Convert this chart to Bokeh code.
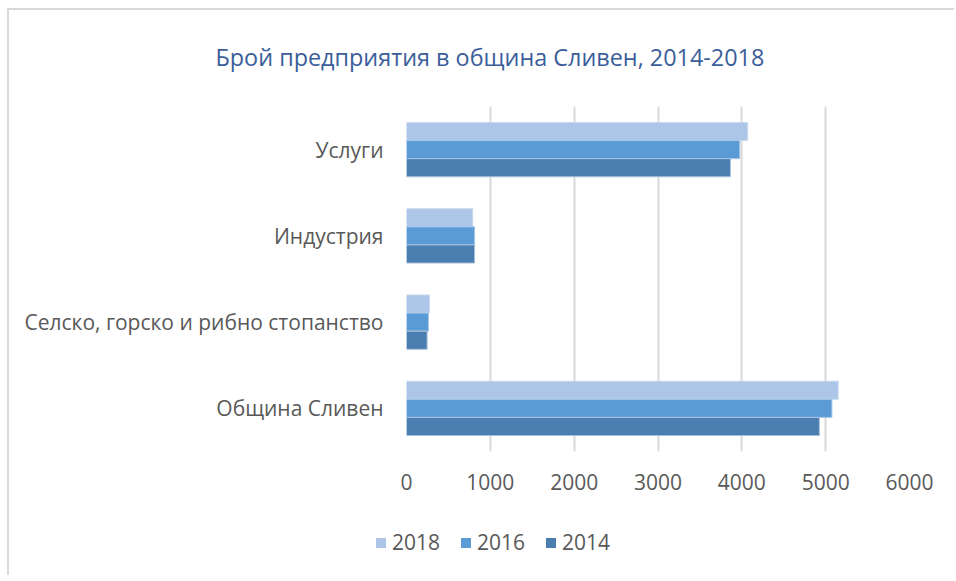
from bokeh.plotting import figure
from bokeh.layouts import column
from bokeh.models import ColumnDataSource, FactorRange, Title, FixedTicker, Div, InlineStyleSheet
from bokeh.transform import dodge
from bokeh.embed import file_html
from bokeh.resources import INLINE

categories = ["Услуги", "Индустрия", "Селско, горско и рибно стопанство", "Община Сливен"]
years = ["2018", "2016", "2014"]
v2018 = [4070, 790, 275, 5150]
v2016 = [3975, 812, 262, 5075]
v2014 = [3865, 812, 246, 4925]
x_ticks = [0, 1000, 2000, 3000, 4000, 5000, 6000]

colors = {"2018": "#ADC5E7", "2016": "#5B9BD5", "2014": "#4A7EB0"}
edges = {"2018": "#C9DAF0", "2016": "#A9C8EA", "2014": "#A9C2DC"}
FONT = "Open Sans"
TXT = "#595959"
W = 954

src = ColumnDataSource(dict(cat=categories, v2018=v2018, v2016=v2016, v2014=v2014))

p = figure(width=W, height=520, output_backend="svg", toolbar_location=None,
           y_range=FactorRange(*reversed(categories)), x_range=(0, 6000),
           min_border_left=406, min_border_right=W - 909, min_border_top=106, min_border_bottom=69)
p.outline_line_color = None
p.border_fill_alpha = 0

bh = 0.21
p.hbar(y=dodge("cat", bh, range=p.y_range), right="v2018", height=bh, source=src,
       fill_color=colors["2018"], line_color=edges["2018"], line_width=1)
p.hbar(y=dodge("cat", 0, range=p.y_range), right="v2016", height=bh, source=src,
       fill_color=colors["2016"], line_color=edges["2016"], line_width=1)
p.hbar(y=dodge("cat", -bh, range=p.y_range), right="v2014", height=bh, source=src,
       fill_color=colors["2014"], line_color=edges["2014"], line_width=1)

title = Title(text="Брой предприятия в община Сливен, 2014-2018", align="left", offset=-191,
              text_font=FONT, text_font_size="23.4px", text_font_style="normal",
              text_color="#3B5E9B", standoff=68)
p.add_layout(title, "above")

p.xaxis.ticker = FixedTicker(ticks=x_ticks)
for ax in (p.xaxis, p.yaxis):
    ax.axis_line_color = None
    ax.major_tick_line_color = None
    ax.minor_tick_line_color = None
    ax.major_label_text_font = FONT
    ax.major_label_text_font_size = "21px"
    ax.major_label_text_color = TXT
p.yaxis.major_label_standoff = 17
p.xaxis.major_label_standoff = 16

p.ygrid.grid_line_color = None
p.xgrid.grid_line_color = "#D9D9D9"
p.xgrid.grid_line_width = 2

# legend as HTML strip below the plot
sq_left = [376, 461, 546]
parts = []
for yr, x0 in zip(years, sq_left):
    parts.append(
        f'<span style="position:absolute;left:{x0}px;top:18px;width:10px;height:10px;'
        f'background:{colors[yr]};"></span>'
        f'<span style="position:absolute;left:{x0 + 16}px;top:8px;line-height:28px;">{yr}</span>'
    )
legend_html = (f'<div style="position:relative;width:{W}px;height:55px;font-family:\'{FONT}\';'
               f'font-size:21px;color:{TXT};">' + "".join(parts) + "</div>")
legend_div = Div(text=legend_html, width=W, height=55, margin=0)

layout = column(p, legend_div, spacing=0)
layout.stylesheets = [InlineStyleSheet(css=(
    ":host { background-image: linear-gradient(#D9D9D9, #D9D9D9), linear-gradient(#D9D9D9, #D9D9D9);"
    " background-size: 100% 2px, 2px 100%; background-position: 7px 8px, 7px 8px;"
    " background-repeat: no-repeat; }"
))]

open("out.html", "w").write(file_html(layout, INLINE))
